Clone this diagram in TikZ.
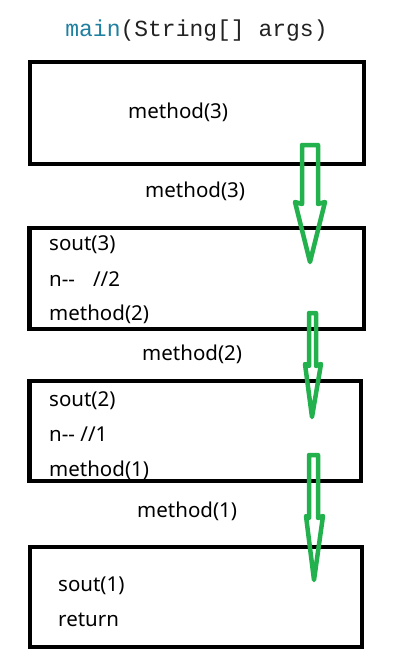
\documentclass[tikz,border=0pt]{standalone}
\usepackage{fontspec}
\newfontfamily\bodyfont{Noto Sans}
\newfontfamily\codefont{Liberation Mono}
\definecolor{arrowgreen}{HTML}{22B14C}
\definecolor{kwteal}{HTML}{1F7FA0}
\definecolor{codedark}{HTML}{222222}
\begin{document}
\begin{tikzpicture}[x=1pt,y=-1pt,
  frame/.style={draw=black,line width=4.8pt},
  txt/.style={anchor=base west,inner sep=0pt,font=\bodyfont\fontsize{20.5}{24}\selectfont},
  hollow/.style={draw=arrowgreen,line width=4.5pt,line join=round}]
\useasboundingbox (0,0) rectangle (403,672);
% title
\node[anchor=base,inner sep=0pt,font=\codefont\fontsize{23}{26}\selectfont,text=codedark] (title) at (196.5,36) {\textcolor{kwteal}{main}(String[] args)};
% frames
\draw[frame] (30,62) rectangle (364,164);
\draw[frame] (29.5,228) rectangle (364,329);
\draw[frame] (29.5,381) rectangle (361,481);
\draw[frame] (30,547) rectangle (362,647);
% texts
\node[txt] (m3a) at (128,118) {method(3)};
\node[txt] (l3) at (145,197) {method(3)};
\node[txt] (s3) at (49,250.5) {sout(3)};
\node[txt] (n2) at (49,286.5) {n-{}-\hspace{18pt}//2};
\node[txt] (m2a) at (49,320.5) {method(2)};
\node[txt] (l2) at (142,360) {method(2)};
\node[txt] (s2) at (49,406.5) {sout(2)};
\node[txt] (n1) at (49,441.5) {n-{}- //1};
\node[txt] (m1a) at (49,476.5) {method(1)};
\node[txt] (l1) at (137,517.5) {method(1)};
\node[txt] (s1) at (58,591.5) {sout(1)};
\node[txt] (ret) at (58,626.5) {return};
% hollow arrows
\draw[hollow] (302,145) -- (318,145) -- (318,204) -- (325,202) -- (310,262) -- (295,202) -- (302,204) -- cycle;
\draw[hollow] (309,313) -- (316,313) -- (316,366) -- (321,364) -- (312,417) -- (305,364) -- (309,366) -- cycle;
\draw[hollow] (309,455) -- (318,455) -- (318,518) -- (323,516) -- (314,580) -- (306,516) -- (309,518) -- cycle;
\end{tikzpicture}
\end{document}
